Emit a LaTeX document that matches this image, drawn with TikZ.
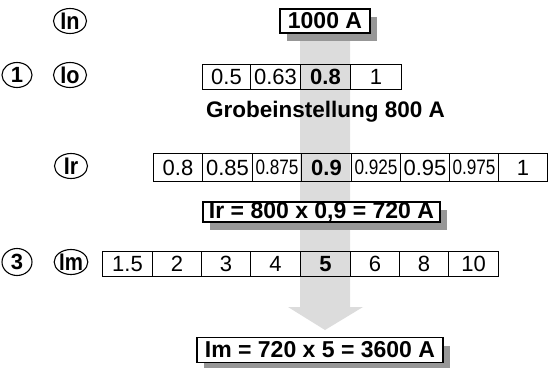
\documentclass[tikz,border=0pt]{standalone}
\usepackage{fontspec}
\setmainfont{Liberation Sans}
\usetikzlibrary{shapes.geometric,shadows}
\definecolor{bandgray}{HTML}{DCDCDC}
\definecolor{shadegray}{HTML}{979797}
\begin{document}
\begin{tikzpicture}[x=1pt,y=-1pt,
  cell/.style={draw=black, line width=1pt, inner sep=0pt, anchor=north west,
    font=\fontsize{22}{24}\selectfont},
  oval/.style={ellipse, draw=black, line width=1.1pt, inner sep=0pt,
    minimum width=33, minimum height=25, font=\fontsize{24}{26}\selectfont\bfseries},
  digitoval/.style={oval, minimum width=30, font=\fontsize{22}{24}\selectfont\bfseries},
  result/.style={draw=black, fill=white, line width=1.1pt, inner sep=0pt,
    font=\fontsize{23}{25}\selectfont\bfseries,
    general shadow={fill=shadegray, shadow xshift=7pt, shadow yshift=-8pt}},
  caption/.style={font=\fontsize{22.5}{25}\selectfont\bfseries}
]
\useasboundingbox (0,0) rectangle (551,367);
% gray band with arrow head
\fill[bandgray] (300,30) -- (350,30) -- (350,307) -- (363,307) -- (325,330)
  -- (288,307) -- (300,307) -- cycle;

% left labels
\node[oval] (In) at (70,21) {\scalebox{0.9}[1]{In}};
\node[digitoval] (one) at (17,75) {1};
\node[oval] (Io) at (70,75) {\scalebox{0.9}[1]{Io}};
\node[oval] (Ir) at (71,166) {\scalebox{0.9}[1]{Ir}};
\node[digitoval, minimum height=27] (three) at (17,262) {3};
\node[oval] (Im) at (71,262) {\scalebox{0.85}[1]{Im}};

% 1000 A
\node[result, minimum width=90, minimum height=24] (rated) at (325,21) {1000 A};

% Io row
\node[cell, minimum width=48, minimum height=25] (io1) at (202,64) {0.5};
\node[cell, minimum width=50, minimum height=25] (io2) at (250,64) {0.63};
\node[cell, minimum width=50, minimum height=25] (io3) at (300,64) {\bfseries 0.8};
\node[cell, minimum width=51, minimum height=25] (io4) at (350,64) {1};

\node[caption] (grob) at (325.5,112) {Grobeinstellung 800 A};

% Ir row
\node[cell, minimum width=49, minimum height=28] (ir1) at (153,153) {0.8};
\node[cell, minimum width=50, minimum height=28] (ir2) at (202,153) {0.85};
\node[cell, minimum width=49, minimum height=28] (ir3) at (252,153) {\scalebox{0.78}[0.95]{0.875}};
\node[cell, minimum width=50, minimum height=28] (ir4) at (301,153) {\bfseries 0.9};
\node[cell, minimum width=49, minimum height=28] (ir5) at (351,153) {\scalebox{0.78}[0.95]{0.925}};
\node[cell, minimum width=49, minimum height=28] (ir6) at (400,153) {0.95};
\node[cell, minimum width=49, minimum height=28] (ir7) at (449,153) {\scalebox{0.78}[0.95]{0.975}};
\node[cell, minimum width=49, minimum height=28] (ir8) at (498,153) {1};

\node[result, minimum width=237, minimum height=20] (irres) at (321.5,212) {Ir = 800 x 0,9 = 720 A};

% Im row
\node[cell, minimum width=50, minimum height=25] (im1) at (102,251) {1.5};
\node[cell, minimum width=49, minimum height=25] (im2) at (152,251) {2};
\node[cell, minimum width=49, minimum height=25] (im3) at (201,251) {3};
\node[cell, minimum width=50, minimum height=25] (im4) at (250,251) {4};
\node[cell, minimum width=50, minimum height=25] (im5) at (300,251) {\bfseries 5};
\node[cell, minimum width=49, minimum height=25] (im6) at (350,251) {6};
\node[cell, minimum width=49, minimum height=25] (im7) at (399,251) {8};
\node[cell, minimum width=50, minimum height=25] (im8) at (448,251) {10};

\node[result, minimum width=246, minimum height=25] (imres) at (320,350) {Im = 720 x 5 = 3600 A};
\end{tikzpicture}
\end{document}
